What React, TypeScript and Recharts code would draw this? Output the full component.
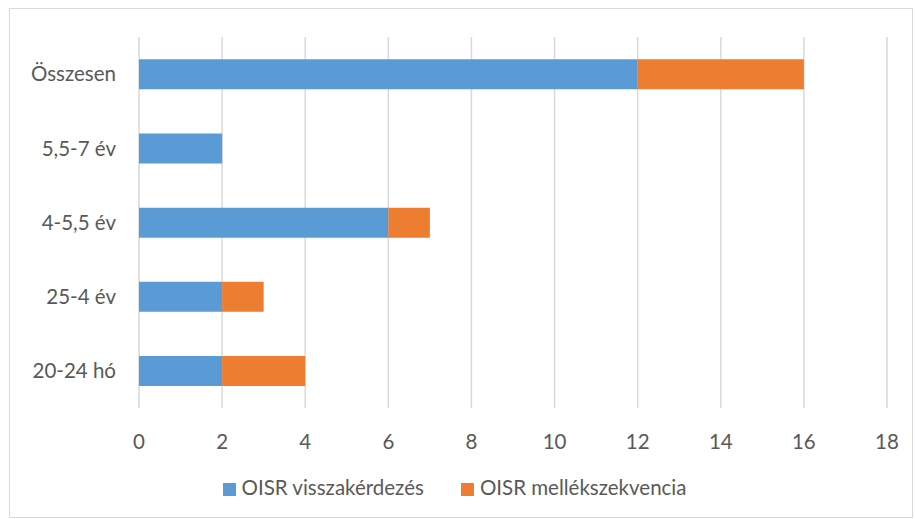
import { BarChart, Bar, XAxis, YAxis, CartesianGrid, Legend } from 'recharts';

const categories = ['Összesen', '5,5-7 év', '4-5,5 év', '25-4 év', '20-24 hó'];
const visszakerdezes = [12, 2, 6, 2, 2];
const mellekszekvencia = [4, 0, 1, 1, 2];
const xTicks = [0, 2, 4, 6, 8, 10, 12, 14, 16, 18];
const seriesOrder = ['visszakerdezes', 'mellekszekvencia'];

const data = categories.map((name, i) => ({
  name,
  visszakerdezes: visszakerdezes[i],
  mellekszekvencia: mellekszekvencia[i],
}));

const font = 'Lato, "Open Sans", sans-serif';
const textColor = '#595959';
const fontSize = 20.5;

export default function App() {
  return (
    <div style={{ position: 'absolute', left: 0, top: 0, width: 915, height: 519, background: '#fff', fontFamily: font }}>
      <div style={{ position: 'absolute', left: 9, top: 8, width: 902, height: 508, border: '1px solid #d9d9d9' }} />
      <BarChart
        width={915}
        height={519}
        data={data}
        layout="vertical"
        barCategoryGap="30%"
        margin={{ top: 37, right: 28, left: 0, bottom: 20 }}
      >
        <CartesianGrid horizontal={false} stroke="#d9d9d9" strokeWidth={1.5} />
        <XAxis
          type="number"
          domain={[0, 18]}
          ticks={xTicks}
          axisLine={false}
          tickLine={false}
          height={67}
          tickMargin={20}
          tick={{ fill: textColor, fontSize, fontFamily: font }}
        />
        <YAxis
          type="category"
          dataKey="name"
          width={139}
          axisLine={false}
          tickLine={false}
          tickMargin={17}
          tick={{ fill: textColor, fontSize, fontFamily: font }}
        />
        <Legend
          verticalAlign="bottom"
          iconType="square"
          iconSize={13}
          itemSorter={(item: any) => seriesOrder.indexOf(item.dataKey)}
          wrapperStyle={{ fontSize, fontFamily: font, left: 16 }}
          formatter={(value, _entry, index) => (
            <span style={{ color: textColor, marginLeft: 2, marginRight: index === 0 ? 27 : 0 }}>{value}</span>
          )}
        />
        <Bar dataKey="visszakerdezes" name="OISR visszakérdezés" stackId="a" fill="#5B9BD5" isAnimationActive={false} />
        <Bar dataKey="mellekszekvencia" name="OISR mellékszekvencia" stackId="a" fill="#ED7D31" isAnimationActive={false} />
      </BarChart>
    </div>
  );
}
